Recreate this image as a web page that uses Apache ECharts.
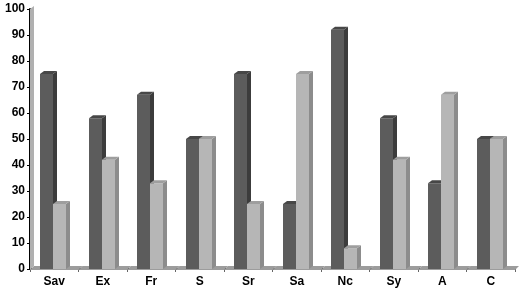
<!DOCTYPE html>
<html>
<head>
<meta charset="utf-8">
<script src="https://cdn.jsdelivr.net/npm/echarts@6/dist/echarts.min.js"></script>
<style>
html, body { margin: 0; padding: 0; background: #fff; }
#main { width: 525px; height: 291px; }
</style>
</head>
<body>
<div id="main"></div>
<script>
var categories = ['Sav', 'Ex', 'Fr', 'S', 'Sr', 'Sa', 'Nc', 'Sy', 'A', 'C'];
var darkValues = [75, 58, 67, 50, 75, 25, 92, 58, 33, 50];
var lightValues = [25, 42, 33, 50, 25, 75, 8, 42, 67, 50];
var yMin = 0, yMax = 100, yStep = 10;

var myChart = echarts.init(document.getElementById('main'));

// draws one 3d-looking bar: front face, right side, top
function barRenderer(front, side, topColor, shift) {
    return function (params, api) {
        var c = api.value(0), v = api.value(1);
        var p0 = api.coord([c, 0]);
        var p1 = api.coord([c, v]);
        var bw = api.size([1, 0])[0];
        var w = Math.round(bw * 0.27);
        var x = Math.round(p0[0] + shift * bw);
        var dx = 4, dy = 3;
        return {
            type: 'group',
            children: [
                { type: 'rect', shape: { x: x, y: p1[1], width: w, height: p0[1] - p1[1] }, style: { fill: front } },
                { type: 'polygon', shape: { points: [[x + w, p1[1]], [x + w + dx, p1[1] - dy], [x + w + dx, p0[1] - dy], [x + w, p0[1]]] }, style: { fill: side } },
                { type: 'polygon', shape: { points: [[x, p1[1]], [x + dx, p1[1] - dy], [x + w + dx, p1[1] - dy], [x + w, p1[1]]] }, style: { fill: topColor } }
            ]
        };
    };
}

// floor strip under each category, plus the left wall once
function floorRenderer(params, api) {
    var c = api.value(0);
    var p0 = api.coord([c, 0]);
    var bw = api.size([1, 0])[0];
    var xl = p0[0] - bw / 2, xr = p0[0] + bw / 2;
    var kids = [
        { type: 'polygon', shape: { points: [[xl, p0[1] + 1], [xr, p0[1] + 1], [xr + 4, p0[1] - 3], [xl + 4, p0[1] - 3]] }, style: { fill: '#9c9c9c' } }
    ];
    if (params.dataIndex === 0) {
        var t = api.coord([c, yMax]);
        kids.push({ type: 'polygon', shape: { points: [[xl, t[1]], [xl + 4, t[1] - 3], [xl + 4, p0[1] - 3], [xl, p0[1] + 1]] }, style: { fill: '#b0b0b0' } });
    }
    return { type: 'group', children: kids };
}

var option = {
    backgroundColor: '#ffffff',
    animation: false,
    grid: { left: 30, right: 10, top: 9, bottom: 22 },
    xAxis: {
        type: 'category',
        data: categories,
        axisLine: { lineStyle: { color: '#000', width: 2 } },
        axisTick: { show: true, length: 3, lineStyle: { color: '#666' } },
        axisLabel: { color: '#000', fontWeight: 'bold', fontSize: 12, fontFamily: 'Liberation Sans', margin: 7 }
    },
    yAxis: {
        type: 'value',
        min: yMin,
        max: yMax,
        interval: yStep,
        axisLine: { show: true, lineStyle: { color: '#000', width: 2 } },
        axisTick: { show: true, length: 3, lineStyle: { color: '#000' } },
        splitLine: { show: false },
        axisLabel: { color: '#000', fontWeight: 'bold', fontSize: 12, fontFamily: 'Liberation Sans', margin: 5 }
    },
    series: [
        {
            type: 'custom',
            renderItem: floorRenderer,
            data: categories.map(function (c, i) { return [i, 0]; }),
            z: 1
        },
        {
            name: 'dark',
            type: 'custom',
            renderItem: barRenderer('#5c5c5c', '#3c3c3c', '#474747', -0.29),
            data: darkValues.map(function (v, i) { return [i, v]; }),
            z: 2
        },
        {
            name: 'light',
            type: 'custom',
            renderItem: barRenderer('#b6b6b6', '#8c8c8c', '#9e9e9e', -0.02),
            data: lightValues.map(function (v, i) { return [i, v]; }),
            z: 3
        }
    ]
};
myChart.setOption(option);
</script>
</body>
</html>
